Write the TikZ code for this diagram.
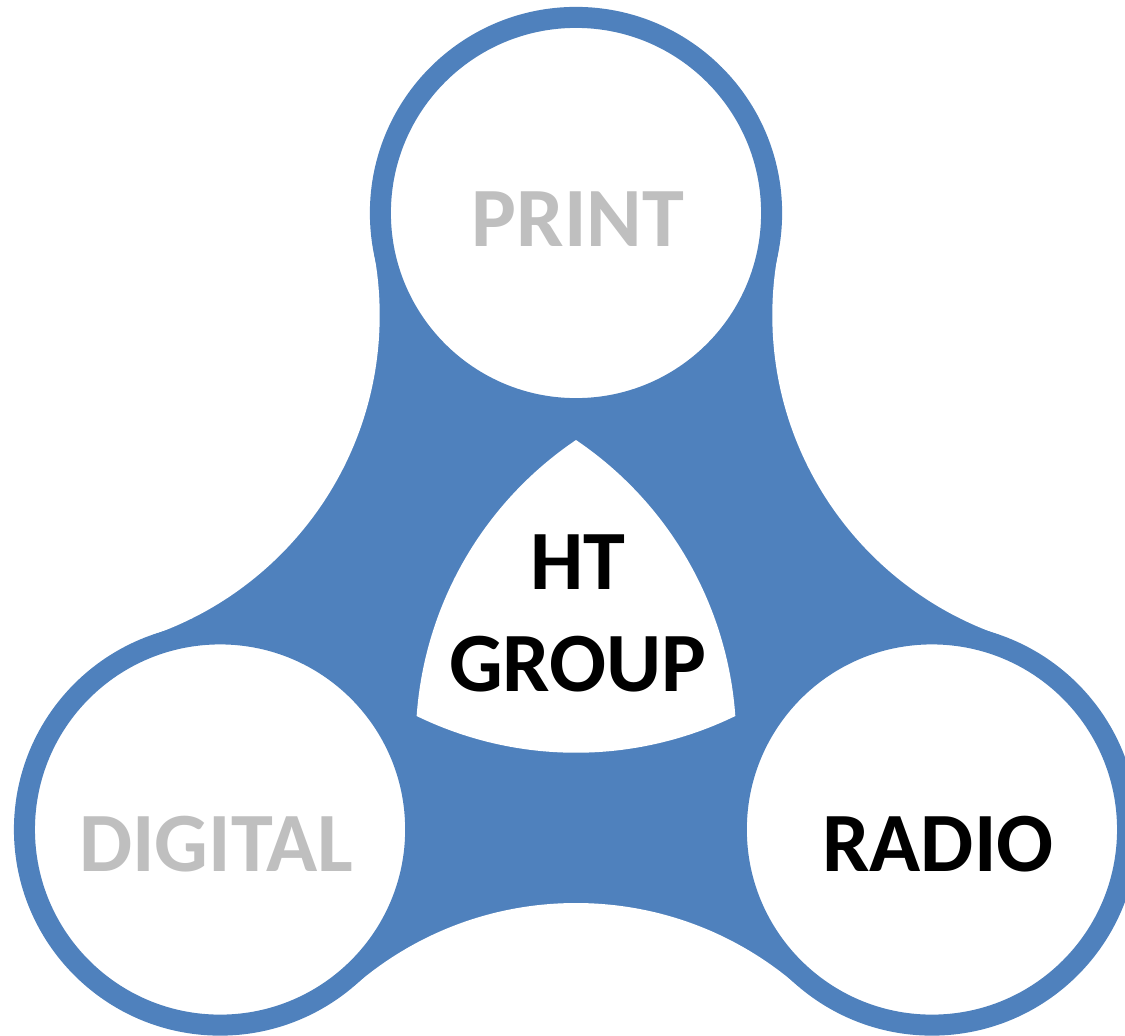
\documentclass[tikz,border=0pt]{standalone}
\usepackage{fontspec}
\setmainfont{Carlito}
\usepackage{tikz}
\definecolor{ringblue}{HTML}{4F81BD}
\definecolor{mutedgray}{HTML}{BFBFBF}

\begin{document}
\begin{tikzpicture}[x=0.01cm,y=0.01cm]
\pgfmathsetmacro{\hubR}{411}
\pgfmathsetmacro{\gapD}{617.3}
\pgfmathsetmacro{\gapR}{338.3}

\tikzstyle{ring}=[circle,fill=white,draw=ringblue,line width=0.21cm,minimum size=3.91cm,inner sep=0pt]
\tikzstyle{ringtext}=[font=\fontsize{24}{29}\selectfont\bfseries,align=center,inner sep=0pt]

\useasboundingbox (-576,-411) rectangle (549,624);
\clip (-576,-411) rectangle (549,624);

\fill[ringblue] (90:\hubR) -- (150:\gapD) -- (210:\hubR) -- (270:\gapD) -- (330:\hubR) -- (30:\gapD) -- cycle;
\foreach \a in {30,150,270}
  \fill[white] (\a:\gapD) circle (\gapR);

\node[ring] (print) at (90:\hubR) {};
\node[ring] (digital) at (210:\hubR) {};
\node[ring] (radio) at (330:\hubR) {};

\fill[white] (210:184) arc[start angle=244.04, end angle=295.96, radius=364]
  arc[start angle=4.04, end angle=55.96, radius=364]
  arc[start angle=124.04, end angle=175.96, radius=364] -- cycle;

\node[ringtext,mutedgray] (printlbl) at ([shift={(2,-6)}]print.center) {PRINT};
\node[ringtext,mutedgray] (digitallbl) at ([shift={(-4,-15)}]digital.center) {DIGITAL};
\node[ringtext] (radiolbl) at ([shift={(6,-15)}]radio.center) {RADIO};
\node[ringtext] (htgroup) at (2,11) {HT\\GROUP};
\end{tikzpicture}
\end{document}
